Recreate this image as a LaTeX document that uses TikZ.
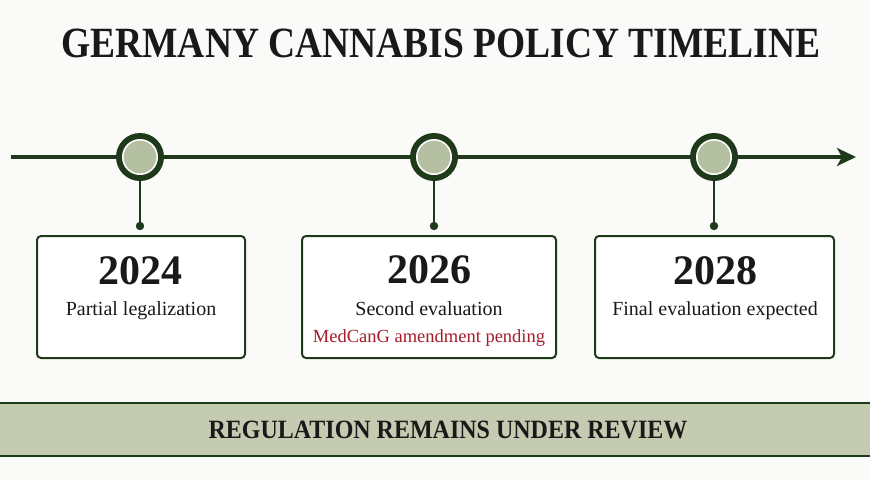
\documentclass[tikz,border=0pt]{standalone}
\usepackage{fontspec}
\setmainfont{Liberation Serif}
\usetikzlibrary{arrows.meta}
\definecolor{dkgreen}{HTML}{1F3A1B}
\definecolor{ltgreen}{HTML}{B5BFA1}
\definecolor{bandgreen}{HTML}{C5CBB0}
\definecolor{redtxt}{HTML}{A51C2A}
\definecolor{bg}{HTML}{FAFAF8}
\tikzset{
  yearbox/.style={draw=dkgreen, line width=2pt, rounded corners=4pt, fill=white},
  yeartxt/.style={font=\fontsize{42}{46}\selectfont\bfseries, text=black!90, inner sep=0pt},
  desctxt/.style={font=\fontsize{20}{24}\selectfont, text=black!90, inner sep=0pt},
  rednote/.style={font=\fontsize{18.5}{22}\selectfont, text=redtxt, inner sep=0pt},
  stem/.style={draw=dkgreen, line width=2.5pt},
  mile/.style={circle, fill=dkgreen, minimum size=48pt, inner sep=0pt},
}
\begin{document}
\begin{tikzpicture}[x=1pt,y=-1pt]
\useasboundingbox (0,0) rectangle (870,480);
\fill[bg] (0,0) rectangle (870,480);
% title
\node[font=\fontsize{37.5}{42}\selectfont\bfseries, text=black!90, inner sep=0pt] (title) at (441,43) {\scalebox{1}[1.15]{GERMANY CANNABIS POLICY TIMELINE}};
% main line
\coordinate (start) at (11,157);
\coordinate (tip) at (856,157);
\draw[dkgreen, line width=4pt, -{Stealth[length=19pt,width=18pt,inset=5pt]}] (start) -- (tip);
% milestones
\foreach \n/\x in {m1/140, m2/434, m3/714}{
  \node[mile] (\n) at (\x,157) {};
  \fill[white] (\n.center) circle (18pt);
  \fill[ltgreen] (\n.center) circle (16.3pt);
  \coordinate (\n d) at (\x,226);
  \draw[stem] (\n.south) -- (\n d);
  \fill[dkgreen] (\n d) circle (4.2pt);
}
% boxes
\draw[yearbox] (37,236) rectangle (245,358);
\draw[yearbox] (302,236) rectangle (556,358);
\draw[yearbox] (595,236) rectangle (834,358);
\node[yeartxt] (y1) at (140,271) {2024};
\node[desctxt] (d1) at (141,311) {Partial legalization};
\node[yeartxt] (y2) at (429,270) {2026};
\node[desctxt] (d2) at (429,309) {Second evaluation};
\node[rednote] (r2) at (429,338) {MedCanG amendment pending};
\node[yeartxt] (y3) at (715,271) {2028};
\node[desctxt] (d3) at (715,311) {Final evaluation expected};
% banner
\fill[bandgreen] (0,403) rectangle (870,455.5);
\draw[dkgreen, line width=2pt] (0,403) -- (870,403);
\draw[dkgreen, line width=2pt] (0,455.5) -- (870,455.5);
\node[font=\fontsize{24}{28}\selectfont\bfseries, text=black!90, inner sep=0pt] (band) at (448,430) {\scalebox{1}[1.1]{REGULATION REMAINS UNDER REVIEW}};
\end{tikzpicture}
\end{document}
